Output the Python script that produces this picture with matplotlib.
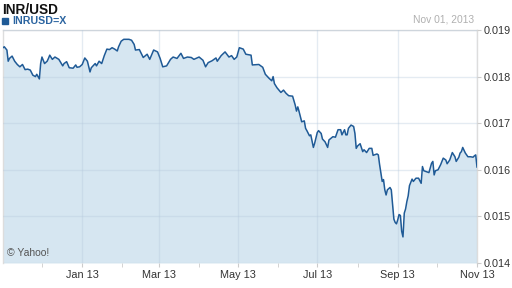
import pandas as pd
import matplotlib
matplotlib.use("Agg")
import matplotlib.pyplot as plt
import matplotlib.dates as mdates

# INR/USD daily close (days counted from 2012-11-01)
days = [0, 1, 3, 4, 5, 7, 9, 11, 13, 15, 17, 19, 21, 23, 25, 26, 28, 29, 30, 32,
        34, 35, 36, 38, 40, 43, 46, 47, 49, 51, 54, 56, 57, 59, 61, 63, 65, 67, 68, 71,
        72, 74, 76, 78, 80, 82, 84, 86, 88, 89, 91, 93, 97, 99, 101, 102, 105, 108, 111, 113,
        116, 119, 121, 123, 126, 129, 131, 134, 137, 139, 142, 145, 147, 151, 154, 156, 158, 161, 164, 165,
        168, 171, 174, 176, 178, 180, 182, 185, 187, 191, 192, 197, 200, 202, 205, 207, 208, 209, 211, 214,
        216, 218, 220, 223, 225, 226, 227, 228, 230, 232, 233, 234, 236, 237, 239, 240, 242, 243, 245, 246,
        248, 250, 251, 254, 256, 258, 260, 261, 263, 264, 265, 266, 268, 270, 271, 272, 273, 275, 277, 278,
        280, 282, 284, 285, 288, 289, 290, 291, 292, 293, 294, 295, 296, 298, 299, 300, 301, 302, 303, 304,
        305, 306, 307, 308, 309, 310, 311, 312, 313, 315, 316, 318, 320, 322, 323, 324, 326, 328, 330, 331,
        332, 333, 335, 337, 339, 341, 342, 344, 346, 348, 349, 351, 352, 353, 354, 356, 358, 360, 362, 363,
        364, 365]
rate = [0.01862, 0.01864, 0.01857, 0.01833, 0.01839, 0.01844, 0.01833, 0.01826, 0.01821, 0.01826,
        0.01815, 0.01816, 0.01814, 0.01803, 0.01800, 0.01805, 0.01795, 0.01828, 0.01842, 0.01828,
        0.01833, 0.01839, 0.01846, 0.01837, 0.01842, 0.01837, 0.01823, 0.01828, 0.01832, 0.01819,
        0.01818, 0.01825, 0.01820, 0.01821, 0.01826, 0.01840, 0.01833, 0.01810, 0.01819, 0.01828,
        0.01823, 0.01833, 0.01828, 0.01845, 0.01859, 0.01858, 0.01862, 0.01859, 0.01855, 0.01864,
        0.01876, 0.01880, 0.01880, 0.01878, 0.01869, 0.01857, 0.01858, 0.01841, 0.01848, 0.01837,
        0.01857, 0.01853, 0.01839, 0.01821, 0.01823, 0.01837, 0.01842, 0.01839, 0.01850, 0.01839,
        0.01842, 0.01841, 0.01837, 0.01842, 0.01835, 0.01821, 0.01830, 0.01834, 0.01840, 0.01833,
        0.01845, 0.01853, 0.01842, 0.01845, 0.01837, 0.01842, 0.01862, 0.01859, 0.01848, 0.01846,
        0.01825, 0.01826, 0.01820, 0.01805, 0.01796, 0.01791, 0.01800, 0.01785, 0.01776, 0.01766,
        0.01771, 0.01764, 0.01759, 0.01758, 0.01739, 0.01726, 0.01735, 0.01725, 0.01703, 0.01705,
        0.01689, 0.01684, 0.01673, 0.01675, 0.01648, 0.01657, 0.01680, 0.01684, 0.01678, 0.01666,
        0.01660, 0.01648, 0.01664, 0.01671, 0.01670, 0.01686, 0.01686, 0.01675, 0.01686, 0.01675,
        0.01675, 0.01689, 0.01696, 0.01693, 0.01678, 0.01646, 0.01651, 0.01656, 0.01639, 0.01643,
        0.01637, 0.01646, 0.01646, 0.01631, 0.01634, 0.01632, 0.01611, 0.01593, 0.01575, 0.01579,
        0.01557, 0.01546, 0.01557, 0.01562, 0.01557, 0.01525, 0.01494, 0.01487, 0.01484, 0.01493,
        0.01504, 0.01502, 0.01468, 0.01456, 0.01507, 0.01516, 0.01532, 0.01544, 0.01566, 0.01580,
        0.01575, 0.01582, 0.01582, 0.01571, 0.01607, 0.01598, 0.01596, 0.01594, 0.01614, 0.01618,
        0.01589, 0.01598, 0.01600, 0.01611, 0.01625, 0.01621, 0.01613, 0.01621, 0.01637, 0.01628,
        0.01618, 0.01627, 0.01636, 0.01639, 0.01648, 0.01636, 0.01628, 0.01628, 0.01627, 0.01630,
        0.01632, 0.01606]

y_ticks = [0.014, 0.015, 0.016, 0.017, 0.018, 0.019]
x_ticks = ["2013-01-01", "2013-03-01", "2013-05-01", "2013-07-01", "2013-09-01", "2013-11-01"]
x_minor = ["2012-12-01", "2013-02-01", "2013-04-01", "2013-06-01", "2013-08-01", "2013-10-01"]
start = pd.Timestamp("2012-11-01")
end = pd.Timestamp("2013-11-01")
dates = start + pd.to_timedelta(days, unit="D")

plt.rcParams["font.family"] = ["Liberation Sans", "DejaVu Sans"]

line_col = "#1f5a96"
fill_col = "#d6e6f1"

fig = plt.figure(figsize=(5.12, 2.88), dpi=100)
ax = fig.add_axes([3 / 512, 1 - 263 / 288, 474 / 512, 233 / 288])

ax.fill_between(dates, rate, 0.014, color=fill_col, lw=0, zorder=1)
ax.plot(dates, rate, color=line_col, lw=1.1, zorder=3)

ax.set_xlim(start, end)
ax.set_ylim(0.014, 0.019)
ax.set_yticks(y_ticks)
ax.yaxis.tick_right()
ax.yaxis.set_major_formatter(matplotlib.ticker.FormatStrFormatter("%.3f"))

ax.set_xticks(pd.to_datetime(x_ticks))
ax.set_xticks(pd.to_datetime(x_minor), minor=True)
ax.xaxis.set_major_formatter(mdates.DateFormatter("%b %y"))

ax.grid(True, which="major", color="#b4c8dc", alpha=0.35, lw=1, zorder=2)
ax.set_axisbelow(False)

ax.tick_params(axis="both", which="major", labelsize=7.8, labelcolor="#333333",
               color="#cccccc", length=3, pad=2)
ax.tick_params(axis="x", which="minor", color="#cccccc", length=3)

for side in ["top", "left", "right", "bottom"]:
    ax.spines[side].set_color("#dddddd")
    ax.spines[side].set_linewidth(1)
ax.spines["bottom"].set_visible(False)

# header texts
fig.text(2 / 512, 1 - 10 / 288, "INR/USD", fontsize=9.8, fontweight="bold",
         color="#111111", va="center", ha="left")
fig.patches.append(plt.Rectangle((2 / 512, 1 - 24 / 288), 6 / 512, 6 / 288,
                                 transform=fig.transFigure, color=line_col))
fig.text(12 / 512, 1 - 21 / 288, "INRUSD=X", fontsize=7.7, fontweight="bold",
         color="#2b64a0", va="center", ha="left")
fig.text(474 / 512, 1 - 20 / 288, "Nov 01, 2013", fontsize=7.4,
         color="#b0b0b0", va="center", ha="right")

ax.text(4 / 474, 10 / 233, "\u00a9 Yahoo!", transform=ax.transAxes, fontsize=7.5,
        color="#555555", va="center", ha="left")

fig.savefig("out.png", dpi=100)
